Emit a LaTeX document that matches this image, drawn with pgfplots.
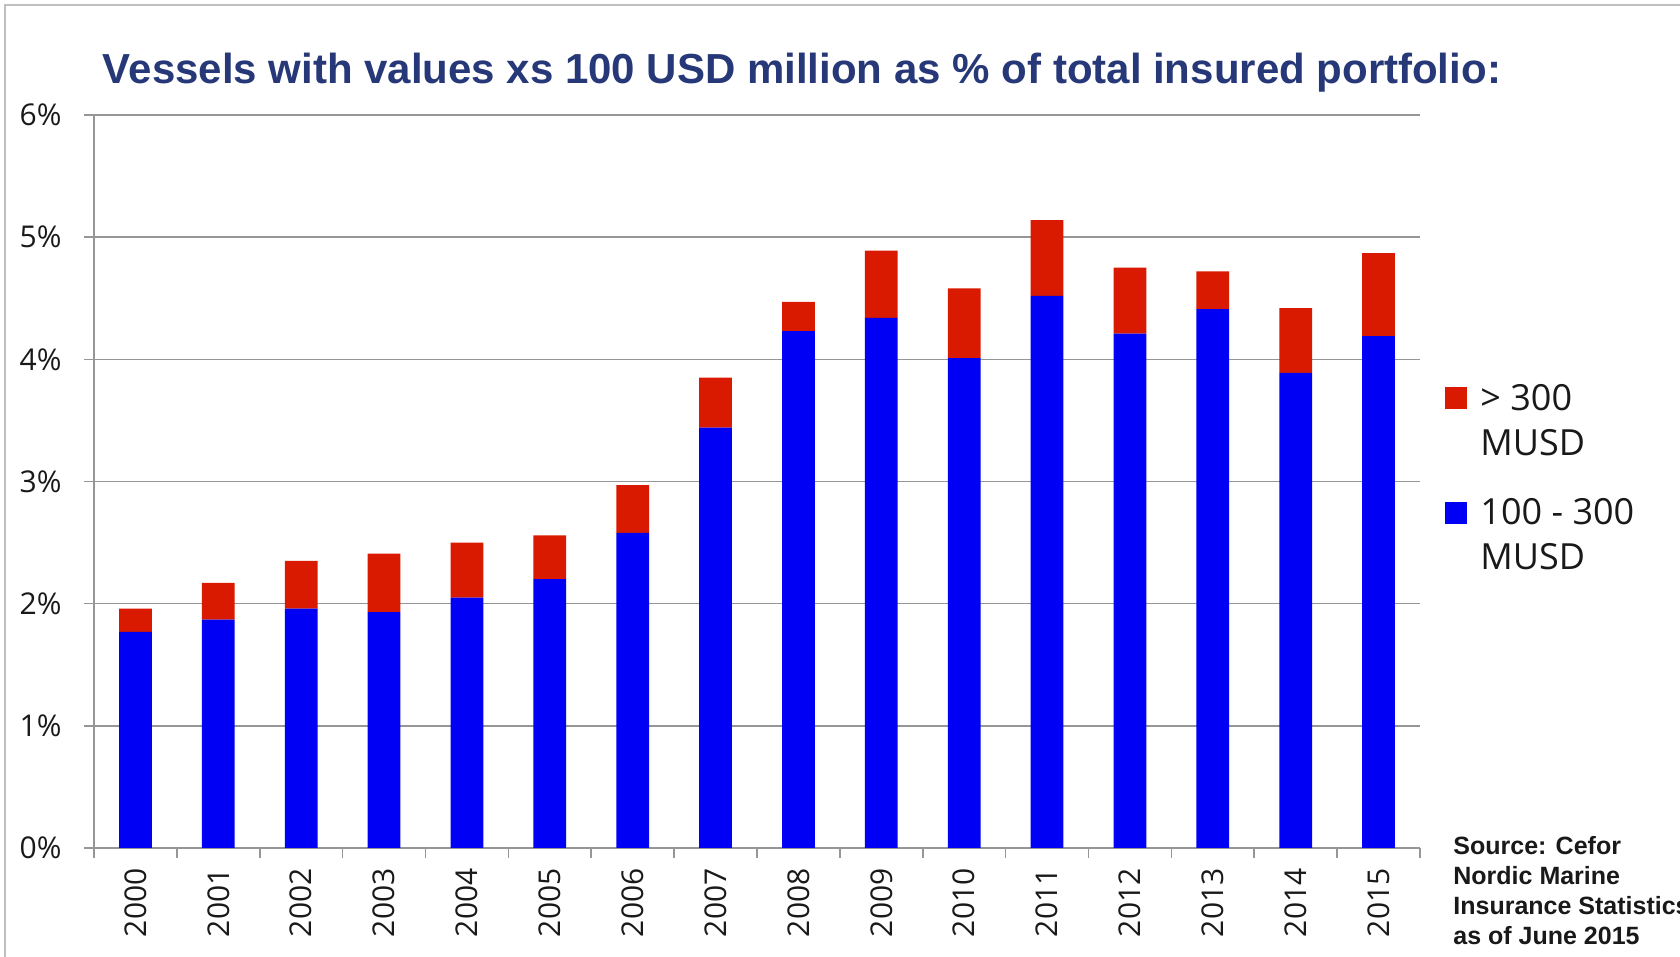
\documentclass[border=0pt]{standalone}
\usepackage{fontspec}
\setmainfont{Open Sans}
\newfontfamily\arialfont{Liberation Sans}
\usepackage{pgfplots}
\usepackage{pgfplotstable}
\pgfplotsset{compat=1.18}

\definecolor{barblue}{RGB}{0,0,245}
\definecolor{barred}{RGB}{218,26,0}
\definecolor{titleblue}{RGB}{38,56,120}
\definecolor{gridgray}{RGB}{150,150,150}
\definecolor{txt}{RGB}{25,25,25}

% share of insured portfolio (%), 100-300 MUSD and > 300 MUSD
\pgfplotstableread{
x    mid   top
0    1.77  0.19
1    1.87  0.30
2    1.96  0.39
3    1.93  0.48
4    2.05  0.45
5    2.20  0.36
6    2.58  0.39
7    3.44  0.41
8    4.23  0.24
9    4.34  0.55
10   4.01  0.57
11   4.52  0.62
12   4.21  0.54
13   4.41  0.31
14   3.89  0.53
15   4.19  0.68
}\vessels

\begin{document}
\begin{tikzpicture}
\useasboundingbox (0,0) rectangle (840pt,478.5pt);
\draw[gray!50, line width=1.2pt] (2.5pt,-5pt) -- (2.5pt,476pt) -- (845pt,476pt);

\node[anchor=base, inner sep=0pt, text=titleblue,
      font=\arialfont\bfseries\fontsize{21}{25}\selectfont] at (401pt,436.5pt)
  {Vessels with values xs 100 USD million as \% of total insured portfolio:};

\begin{axis}[
  at={(47pt,54.5pt)}, anchor=south west,
  scale only axis, width=663pt, height=366.5pt,
  ybar stacked, bar width=16.4pt,
  xmin=-0.5, xmax=15.5, ymin=0, ymax=6,
  xtick={-0.5,0.5,...,15.5}, xticklabels={},
  extra x ticks={0,...,15},
  extra x tick labels={2000,2001,2002,2003,2004,2005,2006,2007,2008,2009,2010,2011,2012,2013,2014,2015},
  extra x tick style={major tick length=0pt},
  ytick={0,...,6},
  yticklabel={\pgfmathprintnumber{\tick}\%},
  axis x line*=bottom, axis y line*=left,
  ymajorgrids, grid style={gridgray, line width=0.8pt},
  axis line style={gridgray, line width=0.8pt},
  tick style={gridgray, line width=0.8pt},
  tick align=outside, major tick length=5pt,
  /pgf/number format/assume math mode=true,
  ticklabel style={font=\fontsize{15}{18}\selectfont, text=txt},
  xticklabel style={yshift=-10pt, rotate=90, anchor=east, inner sep=0pt},
  yticklabel style={anchor=east, inner sep=0pt, xshift=-11pt},
  reverse legend,
  legend style={at={(1.0189,0.6405)}, anchor=north west, draw=none, fill=none,
    inner sep=0pt, row sep=40pt, column sep=6.5pt,
    nodes={inner sep=0pt, text=txt},
    font=\fontsize{18}{22.5}\selectfont},
  legend cell align=left,
]
\addplot[fill=barblue, draw=none,
  legend image code/.code={\fill[barblue] (0pt,-6.5pt) rectangle (11pt,4.5pt);}]
  table[x=x, y=mid] {\vessels};
\addplot[fill=barred, draw=none,
  legend image code/.code={\fill[barred] (0pt,-6.5pt) rectangle (11pt,4.5pt);}]
  table[x=x, y=top] {\vessels};
\addlegendentry{\begin{tabular}[t]{@{}l@{}}100 - 300\\MUSD\end{tabular}}
\addlegendentry{\begin{tabular}[t]{@{}l@{}}> 300\\MUSD\end{tabular}}
\end{axis}

\node[anchor=north west, inner sep=0pt, align=left, text=txt,
      font=\arialfont\bfseries\fontsize{12.5}{15}\selectfont] at (726.5pt,60.5pt)
  {Source: Cefor\\Nordic Marine\\Insurance Statistics\\as of June 2015};
\end{tikzpicture}
\end{document}
